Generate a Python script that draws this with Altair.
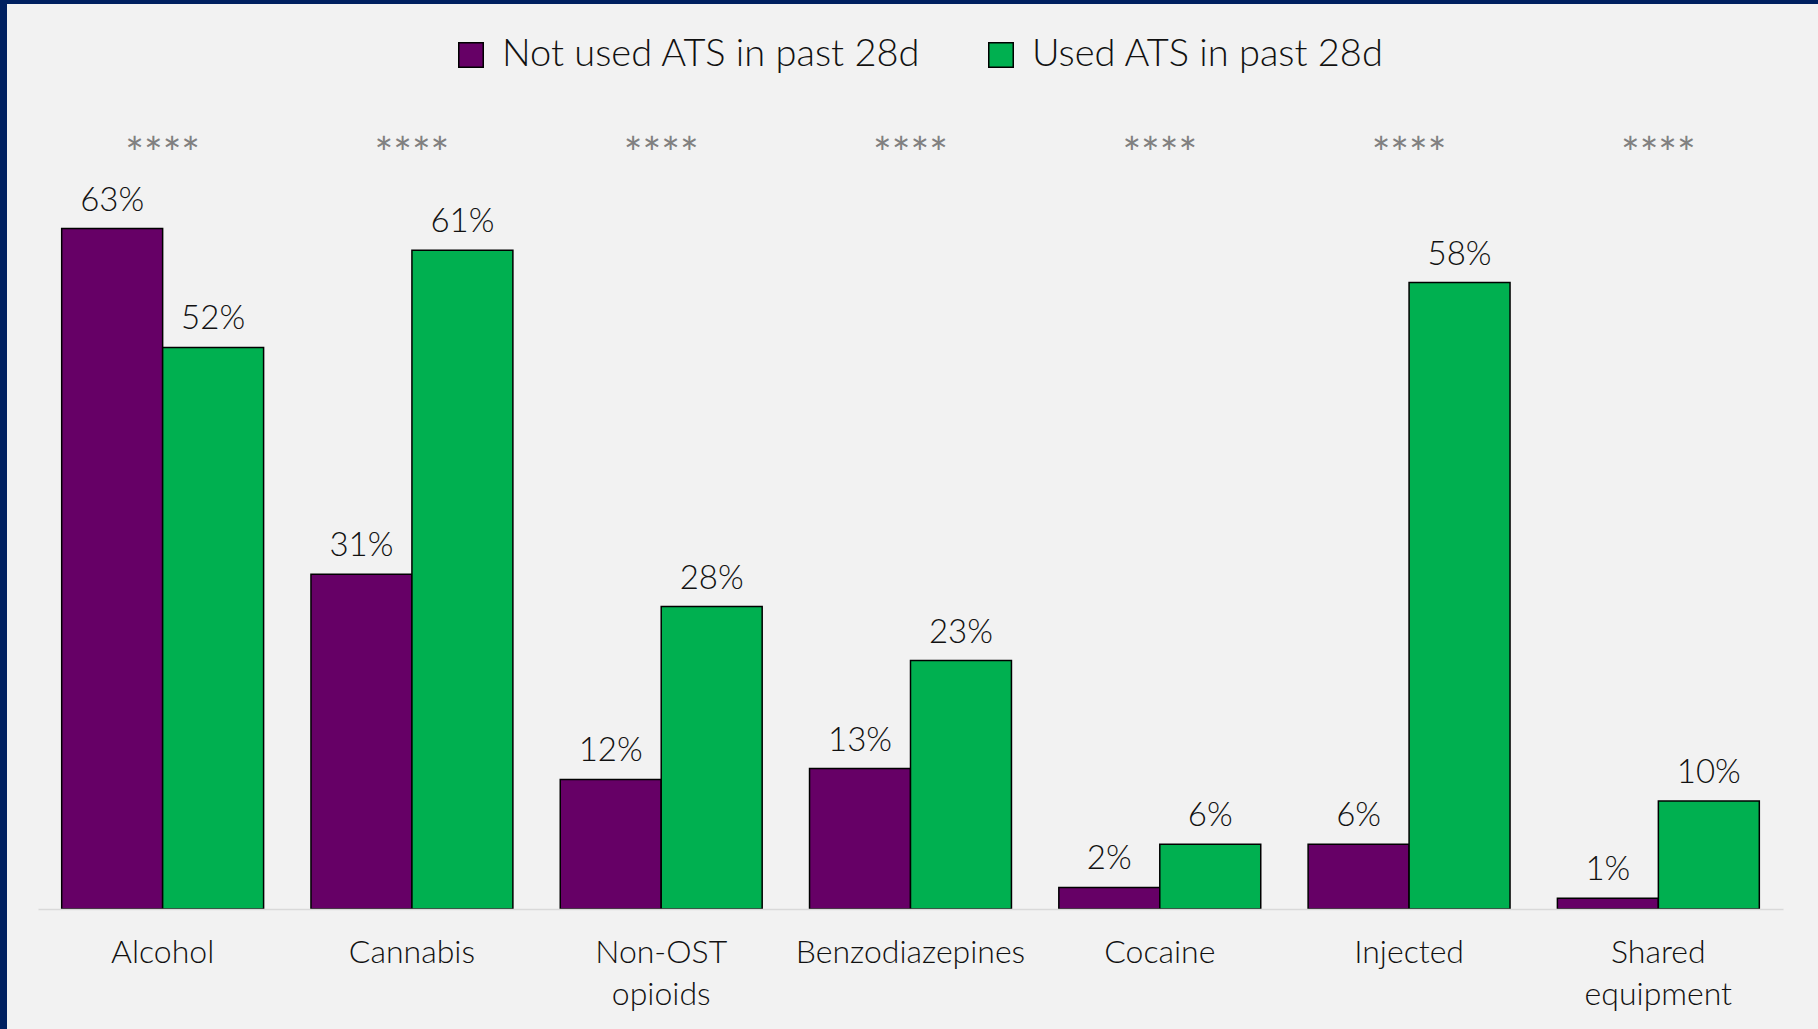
import altair as alt
import pandas as pd

# Share of participants reporting each behaviour, by ATS use in the past 28 days
categories = ["Alcohol", "Cannabis", "Non-OST\nopioids", "Benzodiazepines",
              "Cocaine", "Injected", "Shared\nequipment"]
groups = ["Not used ATS in past 28d", "Used ATS in past 28d"]
not_used = [63, 31, 12, 13, 2, 6, 1]
used = [52, 61, 28, 23, 6, 58, 10]
significance = ["****", "****", "****", "****", "****", "****", "****"]
colors = ["#660066", "#00b050"]

FONT = "Lato"
W, H = 1745, 810

rows = []
for cat, a, b in zip(categories, not_used, used):
    rows.append({"category": cat, "group": groups[0], "value": a})
    rows.append({"category": cat, "group": groups[1], "value": b})
df = pd.DataFrame(rows)
df["label"] = df["value"].astype(str) + "%"

stars = pd.DataFrame({"category": categories, "stars": significance})

x = alt.X(
    "category:N",
    sort=categories,
    scale=alt.Scale(paddingInner=0.19, paddingOuter=0.095),
    axis=alt.Axis(
        title=None,
        labelAngle=0,
        labelExpr="split(datum.label, '\\n')",
        ticks=False,
        domainColor="#d9d9d9",
        domainWidth=1.5,
        labelFont=FONT,
        labelFontWeight=300,
        labelFontSize=32,
        labelColor="#111111",
        labelPadding=28,
        labelLineHeight=42,
        labelLimit=400,
        zindex=1,
    ),
)
y = alt.Y("value:Q", scale=alt.Scale(domain=[0, 75], nice=False), axis=None)
xo = alt.XOffset("group:N", sort=groups, scale=alt.Scale(paddingInner=0))
color = alt.Color(
    "group:N",
    sort=groups,
    scale=alt.Scale(domain=groups, range=colors),
    legend=alt.Legend(
        title=None,
        orient="none",
        legendX=414,
        legendY=-63,
        direction="horizontal",
        symbolType="square",
        symbolSize=600,
        symbolStrokeColor="black",
        symbolStrokeWidth=1.5,
        labelFont=FONT,
        labelFontWeight=300,
        labelFontSize=38,
        labelColor="#111111",
        labelOffset=12,
        columnPadding=61,
        labelLimit=600,
    ),
)

panel = alt.Chart(pd.DataFrame({"k": [0]})).mark_rect(color="#f2f2f2").encode(
    x=alt.value(-31), x2=alt.value(W + 35), y=alt.value(-95), y2=alt.value(H + 140)
)

bars = alt.Chart(df).mark_bar(stroke="black", strokeWidth=1.5).encode(
    x=x, y=y, xOffset=xo, color=color
)

labels = alt.Chart(df).mark_text(
    font=FONT, fontWeight=300, fontSize=33, color="#111111",
    baseline="alphabetic", dy=-18
).encode(x=x, y=y, xOffset=xo, text="label:N")

marks = alt.Chart(stars).mark_text(
    font=FONT, fontSize=44, color="#808080", baseline="middle", dy=14
).encode(x=x, y=alt.datum(71), text="stars:N")

chart = alt.layer(panel, bars, labels, marks).properties(
    width=W,
    height=H,
    background="#002060",
    padding={"left": 38, "right": 35, "top": 99, "bottom": 120},
    autosize=alt.AutoSizeParams(type="none"),
).configure_view(stroke=None)

chart.save("out.html", embed_options={"renderer": "svg", "actions": False})
